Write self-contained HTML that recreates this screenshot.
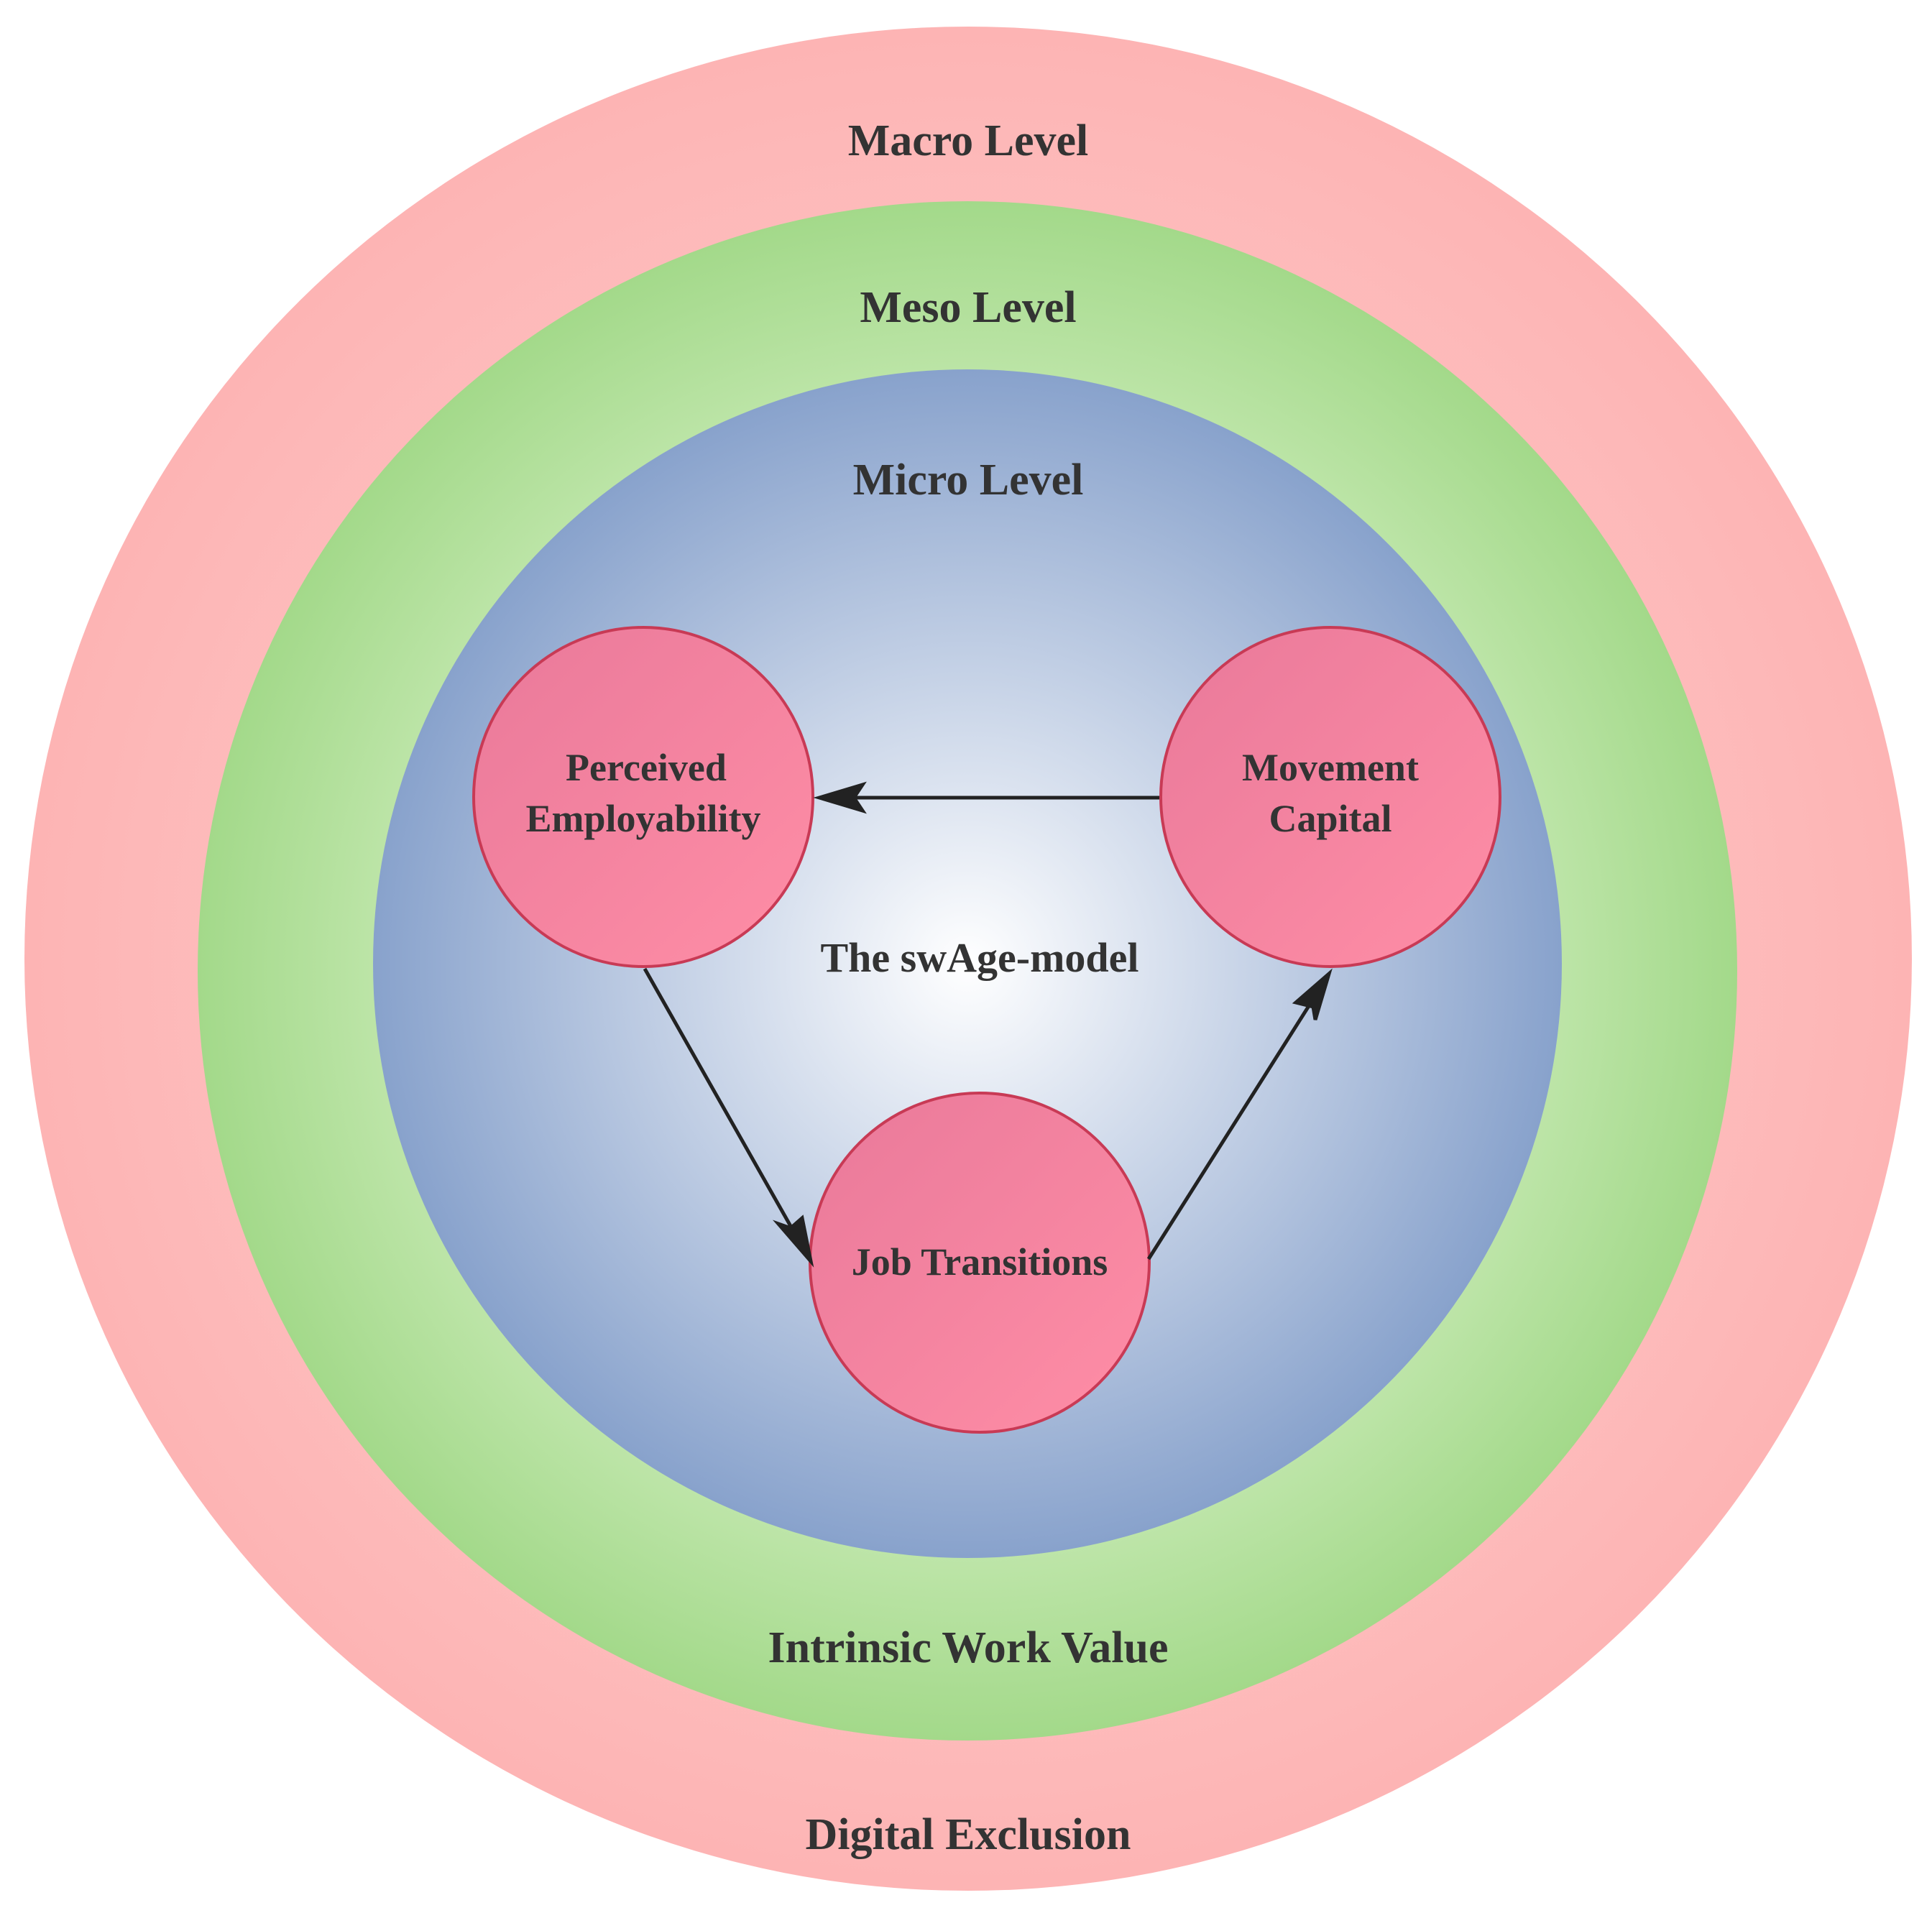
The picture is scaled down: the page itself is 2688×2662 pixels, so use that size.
<!DOCTYPE html>
<html><head><meta charset="utf-8"><style>
html,body{margin:0;padding:0;background:#fff;}
svg{display:block}
text{font-family:"Liberation Serif",serif;font-weight:bold;fill:#333;text-anchor:middle}
</style></head><body>
<svg width="2688" height="2662" viewBox="0 0 2688 2662" xmlns="http://www.w3.org/2000/svg">
<defs>
<radialGradient id="gr" cx="50%" cy="50%" r="50%">
<stop offset="0" stop-color="#ffd6d6"/><stop offset="1" stop-color="#fdb4b4"/></radialGradient>
<radialGradient id="gg" cx="50%" cy="50%" r="50%">
<stop offset="0.7" stop-color="#c4e8b0"/><stop offset="1" stop-color="#a3d98a"/></radialGradient>
<radialGradient id="gb" cx="50%" cy="50%" r="50%">
<stop offset="0" stop-color="#ffffff"/><stop offset="1" stop-color="#88a2cc"/></radialGradient>
<linearGradient id="gp" x1="0" y1="0" x2="1" y2="1">
<stop offset="0" stop-color="#e9799a"/><stop offset="1" stop-color="#ff8ea6"/></linearGradient>
<marker id="ar" markerWidth="12" markerHeight="10" refX="11" refY="5" orient="auto" markerUnits="userSpaceOnUse" viewBox="0 0 12 10">
<path d="M0,0 L12,5 L0,10 L3,5 z" fill="#222"/></marker>
</defs>
<ellipse cx="1347" cy="1334" rx="1313" ry="1297" fill="url(#gr)"/>
<circle cx="1346" cy="1351" r="1071" fill="url(#gg)"/>
<circle cx="1346" cy="1341" r="827" fill="url(#gb)"/>
<g stroke="#c83a55" stroke-width="4" fill="url(#gp)">
<circle cx="895" cy="1109" r="236"/>
<circle cx="1851" cy="1109" r="236"/>
<circle cx="1363" cy="1757" r="236"/>
</g>
<g stroke="#222" stroke-width="5" fill="none">
<line x1="1613" y1="1110" x2="1140" y2="1110"/>
<path d="M1140,1110 l60,-18 l-12,18 l12,18 z" fill="#222"/>
<line x1="897" y1="1348" x2="1122" y2="1745"/>
<path d="M1128,1755 l-45,-52 l17,6 l16,-14 z" fill="#222"/>
<line x1="1598" y1="1752" x2="1843" y2="1365"/>
<path d="M1849,1355 l-19,64 l-3,-18 l-24,-6 z" fill="#222"/>
</g>
<text x="1347" y="216" font-size="62">Macro Level</text>
<text x="1347" y="448" font-size="62">Meso Level</text>
<text x="1347" y="688" font-size="62">Micro Level</text>
<text x="1347" y="2313" font-size="62">Intrinsic Work Value</text>
<text x="1347" y="2573" font-size="62">Digital Exclusion</text>
<text x="1363" y="1352" font-size="58">The swAge-model</text>
<text x="899" y="1086" font-size="54">Perceived</text>
<text x="895" y="1157" font-size="54">Employability</text>
<text x="1851" y="1086" font-size="54">Movement</text>
<text x="1851" y="1157" font-size="54">Capital</text>
<text x="1363" y="1774" font-size="54">Job Transitions</text>
</svg>
</body></html>
